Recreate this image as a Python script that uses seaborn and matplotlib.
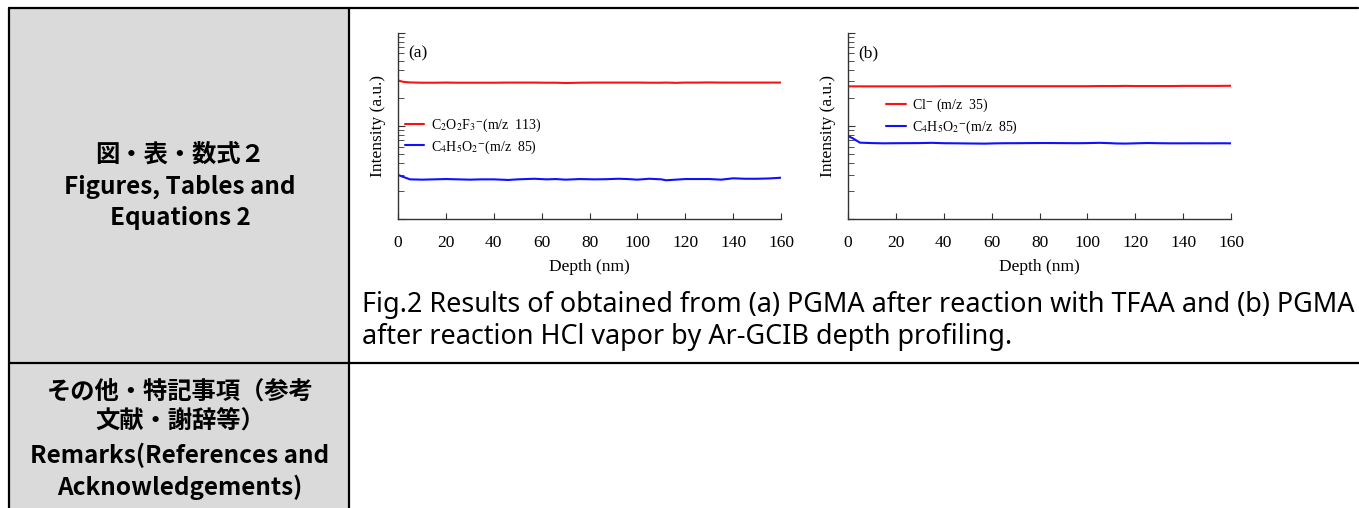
import matplotlib
matplotlib.use('Agg')
import matplotlib.pyplot as plt
import seaborn as sns
import pandas as pd
from matplotlib.lines import Line2D
from matplotlib.patches import Rectangle
from matplotlib.ticker import LogLocator, NullFormatter, FixedLocator

# depth (nm) and intensity (a.u., log scale)
depth = [0, 2, 5, 10, 15, 20, 25, 30, 35, 40, 46, 50, 57, 62, 66, 70, 76, 82, 87,
         92, 96, 100, 105, 110, 112, 116, 120, 125, 130, 135, 140, 145, 150, 155, 160]

a_red = [308, 298, 293, 291, 291, 292, 291, 291, 291, 291, 292, 292, 292, 291, 291, 289,
         291, 292, 292, 292, 292, 292, 291, 291, 292, 290, 292, 292, 293, 292, 292, 292,
         292, 292, 292]
a_blue = [29.9, 28.6, 26.8, 26.6, 26.8, 27.0, 26.8, 26.6, 26.8, 26.8, 26.4, 26.8, 27.2,
          26.8, 27.0, 26.6, 27.0, 26.8, 26.9, 27.2, 27.0, 26.6, 27.2, 26.8, 26.2, 26.6,
          27.0, 27.0, 27.0, 26.6, 27.5, 27.2, 27.2, 27.4, 27.9]

b_red = [266, 266, 266, 266, 266, 266, 266, 266, 266, 267, 267, 267, 267, 267, 267, 267,
         267, 267, 267, 267, 267, 267, 268, 268, 268, 269, 268, 268, 268, 268, 269, 269,
         269, 269, 270]
b_blue = [78.1, 73.8, 66.3, 65.6, 65.2, 65.4, 65.5, 65.6, 66.0, 65.4, 65.2, 65.0, 64.7,
          65.2, 65.4, 65.4, 65.6, 65.7, 65.6, 65.5, 65.4, 65.6, 66.0, 65.4, 65.0, 64.8,
          65.2, 65.7, 65.4, 65.2, 65.2, 65.3, 65.2, 65.3, 65.2]

labels_a = [r'C$_2$O$_2$F$_3$$^{\mathsf{-}}$(m/z  113)', r'C$_4$H$_5$O$_2$$^{\mathsf{-}}$(m/z  85)']
labels_b = [r'Cl$^{\mathsf{-}}$ (m/z  35)', r'C$_4$H$_5$O$_2$$^{\mathsf{-}}$(m/z  85)']
panels = ['(a)', '(b)']
xticks = [0, 20, 40, 60, 80, 100, 120, 140, 160]

caption = ['Fig.2 Results of obtained from (a) PGMA after reaction with TFAA and (b) PGMA',
           'after reaction HCl vapor by Ar-GCIB depth profiling.']
head1 = ['図・表・数式２', 'Figures, Tables and', 'Equations 2']
head2 = ['その他・特記事項（参考', '文献・謝辞等）', 'Remarks(References and', 'Acknowledgements)']

sns.set_style('ticks')
plt.rcParams['mathtext.fontset'] = 'stix'
plt.rcParams['font.family'] = ['Liberation Serif', 'DejaVu Serif']
plt.rcParams['text.color'] = 'black'
plt.rcParams['axes.labelcolor'] = 'black'
plt.rcParams['xtick.labelcolor'] = 'black'

W, H = 1359, 508
fig = plt.figure(figsize=(W / 100, H / 100), dpi=100)


def fx(x):
    return x / W


def fy(y):
    return 1 - y / H


# table background and rules
fig.patches.append(Rectangle((fx(9), 0), fx(349) - fx(9), fy(8), transform=fig.transFigure,
                             facecolor='#dadada', edgecolor='none', zorder=0))
for xs, ys in [((9, 1358), (8, 8)), ((9, 9), (8, 508)), ((349, 349), (8, 508)),
               ((9, 1359), (363, 363))]:
    fig.add_artist(Line2D([fx(xs[0]), fx(xs[1])], [fy(ys[0]), fy(ys[1])],
                          transform=fig.transFigure, color='black', lw=1.6))

cjk = ['Noto Sans CJK JP', 'DejaVu Sans']
for txt, y in zip(head1, [155, 187, 218]):
    fig.text(fx(180), fy(y), txt, ha='center', va='center', fontsize=17.5,
             family=cjk, fontweight='bold')
for txt, y in zip(head2, [393, 422, 455, 487]):
    fig.text(fx(180), fy(y), txt, ha='center', va='center', fontsize=17.5,
             family=cjk, fontweight='bold')
for txt, y in zip(caption, [305, 337]):
    fig.text(fx(362), fy(y), txt, ha='left', va='center', fontsize=19.4,
             family=['Noto Sans', 'DejaVu Sans'])

series = [(a_red, a_blue, labels_a, panels[0], 398, (0.018, 0.55)),
          (b_red, b_blue, labels_b, panels[1], 848, (0.10, 0.655))]

for red, blue, labs, tag, left, lpos in series:
    ax = fig.add_axes([fx(left), fy(219.3), 383 / W, 186.6 / H])
    df = pd.DataFrame({'Depth': depth * 2, 'Intensity': red + blue,
                       'ion': [labs[0]] * len(depth) + [labs[1]] * len(depth)})
    sns.lineplot(data=df, x='Depth', y='Intensity', hue='ion',
                 palette=['#ff1010', '#1010ff'], lw=1.5, ax=ax, legend=True)
    ax.set_yscale('log')
    ax.set_ylim(10, 1000)
    ax.set_xlim(0, 160)
    ax.xaxis.set_major_locator(FixedLocator(xticks))
    ax.yaxis.set_major_locator(LogLocator(base=10))
    ax.yaxis.set_minor_locator(LogLocator(base=10, subs=range(2, 10)))
    ax.yaxis.set_major_formatter(NullFormatter())
    ax.yaxis.set_minor_formatter(NullFormatter())
    ax.tick_params(axis='both', which='both', direction='in', color='#333333')
    ax.tick_params(axis='x', which='major', length=4, labelsize=12.5, pad=11,
                   labelcolor='black')
    ax.tick_params(axis='y', which='major', length=5)
    ax.tick_params(axis='y', which='minor', length=4)
    for s in ['top', 'right']:
        ax.spines[s].set_visible(False)
    for s in ['left', 'bottom']:
        ax.spines[s].set_color('#333333')
        ax.spines[s].set_linewidth(1.0)
    ax.set_xlabel('Depth (nm)', fontsize=12.5, labelpad=6)
    ax.set_ylabel('Intensity (a.u.)', fontsize=12.5, labelpad=5)
    ax.text(0.026, 0.89, tag, transform=ax.transAxes, fontsize=12.5, va='center')
    leg = ax.legend(loc='upper left', bbox_to_anchor=lpos, frameon=False, fontsize=10,
                    handlelength=1.4, handletextpad=0.45, borderpad=0, borderaxespad=0,
                    labelspacing=0.3, title=None)
    for t in leg.get_texts():
        t.set_color('black')
    ax.patch.set_alpha(0)

fig.savefig('out.png', dpi=100)
